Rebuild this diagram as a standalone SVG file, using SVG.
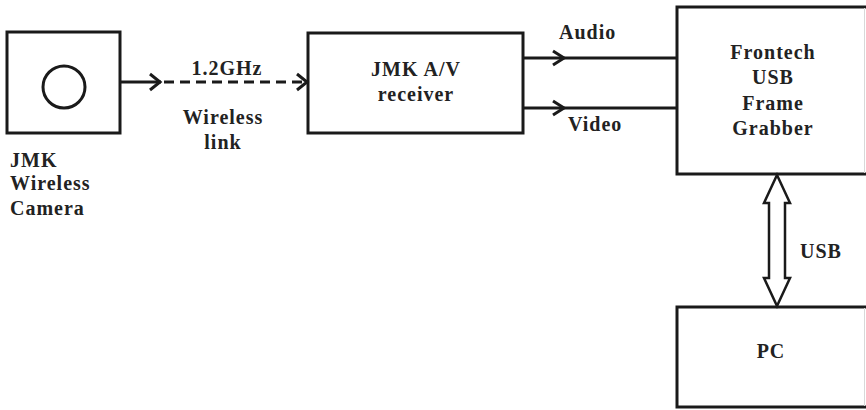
<svg xmlns="http://www.w3.org/2000/svg" width="866" height="410" viewBox="0 0 866 410">
<style>
.box{fill:#fff;stroke:#1a1a1a;stroke-width:3}
.ln{fill:none;stroke:#1a1a1a;stroke-width:3}
.chev{fill:none;stroke:#1a1a1a;stroke-width:3;stroke-linejoin:miter}
.t{font-family:'Liberation Serif','DejaVu Serif','Times New Roman',Times,serif;font-weight:700;font-size:20px;letter-spacing:1px;fill:#222}
.c{text-anchor:middle}
</style>
<rect width="866" height="410" fill="#fff"/>
<g id="camera">
<rect class="box" x="7" y="32" width="113" height="101"/>
<circle class="ln" cx="64" cy="87" r="21"/>
<text class="t" x="10" y="167">JMK</text>
<text class="t" x="10" y="190">Wireless</text>
<text class="t" x="10" y="215">Camera</text>
</g>
<g id="receiver">
<rect class="box" x="308" y="33" width="215" height="100"/>
<text class="t c" x="416" y="76">JMK A/V</text>
<text class="t c" x="416" y="101">receiver</text>
</g>
<g id="grabber">
<rect class="box" x="677" y="7" width="195" height="167"/>
<line x1="864.5" y1="8" x2="864.5" y2="173" stroke="#d8d8d8" stroke-width="1"/>
<text class="t c" x="773" y="59">Frontech</text>
<text class="t c" x="773" y="84">USB</text>
<text class="t c" x="773" y="110">Frame</text>
<text class="t c" x="773" y="135">Grabber</text>
</g>
<g id="pc">
<rect class="box" x="677" y="307" width="195" height="100"/>
<line x1="864.5" y1="308" x2="864.5" y2="406" stroke="#d8d8d8" stroke-width="1"/>
<text class="t c" x="771" y="358">PC</text>
</g>
<g id="connectors">
<line class="ln" x1="120" y1="82" x2="161" y2="82"/>
<polyline class="chev" points="150,74 160,82 150,90"/>
<line class="ln" x1="164" y1="82" x2="306" y2="82" stroke-dasharray="10 6"/>
<polyline class="chev" points="297,74 307,82 297,90"/>
<text class="t c" x="227" y="75">1.2GHz</text>
<text class="t c" x="223" y="124">Wireless</text>
<text class="t c" x="223" y="149">link</text>
<line class="ln" x1="523" y1="58" x2="677" y2="58"/>
<polyline class="chev" points="553,51 564,58 553,65"/>
<text class="t" x="559" y="39">Audio</text>
<line class="ln" x1="523" y1="108" x2="677" y2="108"/>
<polyline class="chev" points="553,101 564,108 553,115"/>
<text class="t" x="568" y="131">Video</text>
<polygon points="777,175 790,203 785,203 785,278 790,278 777,306 764,278 769,278 769,203 764,203" fill="#fff" stroke="#1a1a1a" stroke-width="2.5" stroke-linejoin="miter"/>
<text class="t" x="800" y="258">USB</text>
</g>
</svg>
